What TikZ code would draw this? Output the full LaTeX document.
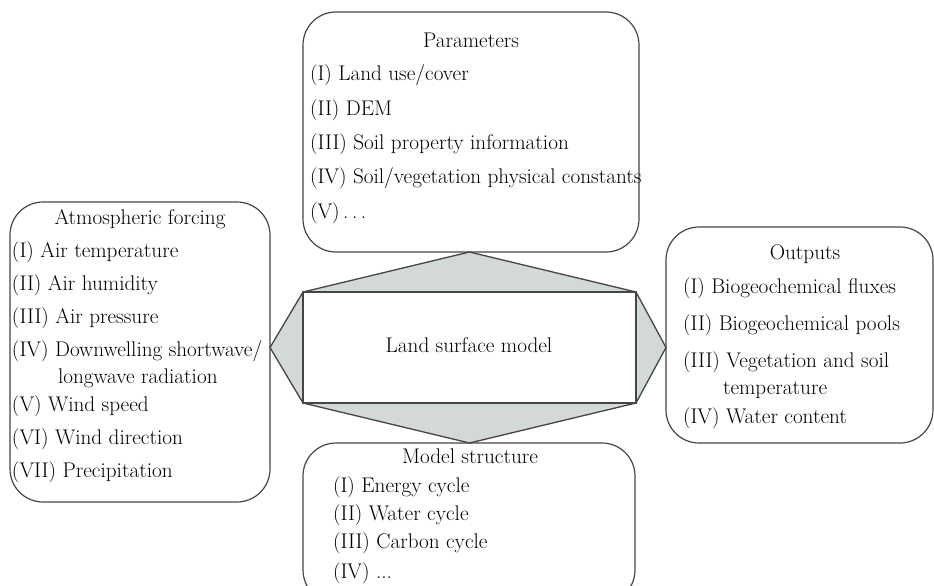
\documentclass[tikz,border=0pt]{standalone}
\usetikzlibrary{calc}
\definecolor{linegray}{HTML}{454545}
\definecolor{fillgray}{HTML}{D3D8D8}
\newcommand{\fsz}{\fontsize{21.2}{25}\selectfont}
\begin{document}
\begin{tikzpicture}[x=1pt,y=-1pt,
  box/.style={draw=linegray, line width=1.2pt, rounded corners=33pt, inner sep=0pt, outer sep=0pt},
  itm/.style={anchor=base west, inner sep=0pt, outer sep=0pt, font=\fsz, text=black},
  ttl/.style={anchor=base, inner sep=0pt, outer sep=0pt, font=\fsz, text=black},
  wedge/.style={draw=linegray, line width=1.3pt, fill=fillgray, line join=round},
  core/.style={draw=linegray, line width=1.8pt, fill=white, inner sep=0pt, outer sep=0pt}]
\clip (0,0) rectangle (934,586);
% boxes
\node[box, minimum width=336pt, minimum height=240pt] (params) at (471,132) {};
\node[box, minimum width=260pt, minimum height=300pt] (atm) at (140,352) {};
\node[box, minimum width=267pt, minimum height=216pt] (out) at (799.5,335) {};
\node[box, minimum width=332pt, minimum height=160pt] (struct) at (469,523) {};
% central model
\node[core, minimum width=333pt, minimum height=111pt] (lsm) at (469.5,347.5) {};
\coordinate (aT) at (lsm.north |- params.south);
\coordinate (aB) at (lsm.south |- struct.north);
\coordinate (aL) at (atm.east |- lsm.center);
\coordinate (aR) at (out.west |- lsm.center);
\draw[wedge] (lsm.north west) -- (aT) -- (lsm.north east) -- cycle;
\draw[wedge] (lsm.south west) -- (aB) -- (lsm.south east) -- cycle;
\draw[wedge] (lsm.north west) -- (aL) -- (lsm.south west) -- cycle;
\draw[wedge] (lsm.north east) -- (aR) -- (lsm.south east) -- cycle;
\node[core, minimum width=333pt, minimum height=111pt] (lsm2) at (lsm.center) {};
\node[ttl] (lsmt) at (469,352) {Land surface model};
% parameters
\node[ttl] (pt) at (471,48) {Parameters};
\node[itm] (p1) at (310,81) {(I) Land use/cover};
\node[itm] (p2) at (310,115) {(II) DEM};
\node[itm] (p3) at (310,149) {(III) Soil property information};
\node[itm] (p4) at (310,183) {(IV) Soil/vegetation physical constants};
\node[itm] (p5) at (310,218) {(V)\,.\,.\,.};
% atmospheric forcing
\node[ttl] (at) at (140,224) {Atmospheric forcing};
\node[itm] (a1) at (12,257) {(I) Air temperature};
\node[itm] (a2) at (12,290) {(II) Air humidity};
\node[itm] (a3) at (12,323) {(III) Air pressure};
\node[itm] (a4) at (12,356) {(IV) Downwelling shortwave/};
\node[itm] (a4b) at (58,383) {longwave radiation};
\node[itm] (a5) at (12,411) {(V) Wind speed};
\node[itm] (a6) at (12,444) {(VI) Wind direction};
\node[itm] (a7) at (12,477) {(VII) Precipitation};
% outputs
\node[ttl] (ot) at (805,259) {Outputs};
\node[itm] (o1) at (683,293) {(I) Biogeochemical fluxes};
\node[itm] (o2) at (683,330) {(II) Biogeochemical pools};
\node[itm] (o3) at (683,367) {(III) Vegetation and soil};
\node[itm] (o3b) at (723,394) {temperature};
\node[itm] (o4) at (683,423) {(IV) Water content};
% model structure
\node[ttl] (st) at (470,463) {Model structure};
\node[itm] (s1) at (333,492) {(I) Energy cycle};
\node[itm] (s2) at (333,520) {(II) Water cycle};
\node[itm] (s3) at (333,548) {(III) Carbon cycle};
\node[itm] (s4) at (333,578) {(IV) ...};
\end{tikzpicture}
\end{document}
